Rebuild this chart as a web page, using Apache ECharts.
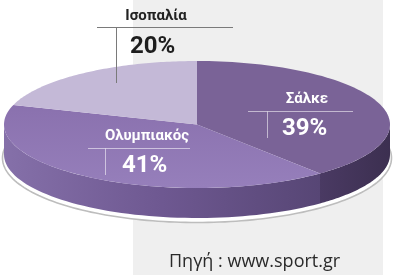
<!DOCTYPE html>
<html>
<head>
<meta charset="utf-8">
<script src="https://cdn.jsdelivr.net/npm/echarts@6/dist/echarts.min.js"></script>
<style>html,body{margin:0;padding:0;background:#fff;}#c{width:400px;height:275px;}</style>
</head>
<body>
<div id="c"></div>
<script>
// Data (clockwise from top)
const categories = ['Σάλκε', 'Ολυμπιακός', 'Ισοπαλία'];
const values = [39, 41, 20];
const sourceText = 'Πηγή : www.sport.gr';

const total = values.reduce((a, b) => a + b, 0);
let acc = 0;
const pieData = values.map((v, i) => {
  const s = acc / total; acc += v; return [s, acc / total, i];
});
const pctText = values.map(v => v + '%');

// layout
const CX = 197, CY = 124.5, RX = 193, RY = 63.5, H = 30;
const topColors = [
  '#7a6397',
  {type:'linear',x:0,y:0,x2:0,y2:1,colorStops:[{offset:0,color:'#8a71ae'},{offset:1,color:'#967fbb'}]},
  '#c4b9d7'
];
const sideColors = [
  {type:'linear',x:0,y:0,x2:1,y2:0,colorStops:[{offset:0,color:'#4a3a63'},{offset:1,color:'#3c2f50'}]},
  {type:'linear',x:0,y:0,x2:1,y2:0,colorStops:[{offset:0,color:'#8570a9'},{offset:0.5,color:'#6e5891'},{offset:1,color:'#574675'}]},
  '#a99cc0'
];
function pt(t, dy, rx, ry) {
  return [CX + (rx || RX) * Math.sin(t), CY - (ry || RY) * Math.cos(t) + (dy || 0)];
}
function arc(t0, t1, dy, n) {
  const pts = [];
  for (let k = 0; k <= n; k++) pts.push(pt(t0 + (t1 - t0) * k / n, dy));
  return pts;
}

function renderItem(params, api) {
  const s = api.value(0), e = api.value(1), idx = api.value(2);
  const t0 = s * 2 * Math.PI, t1 = e * 2 * Math.PI;
  const children = [];
  const topPts = [[CX, CY]].concat(arc(t0, t1, 0, 80));
  children.push({type:'polygon', z2: 10, shape:{points: topPts}, style:{fill: topColors[idx]}});
  const a = Math.max(t0, Math.PI / 2), b = Math.min(t1, 3 * Math.PI / 2);
  if (b > a) {
    const up = arc(a, b, 0, 60);
    const dn = arc(a, b, H, 60).reverse();
    children.push({type:'polygon', z2: 5, shape:{points: up.concat(dn)}, style:{fill: sideColors[idx]}});
  }
  if (idx === 0) {
    const rim = [];
    for (let k = 0; k <= 120; k++) {
      const t = Math.PI * 0.45 + Math.PI * 1.1 * k / 120;
      rim.push(pt(t, H + 3.5, RX + 1.5, RY + 1));
    }
    children.push({type:'polyline', z2: 1, shape:{points: rim}, style:{stroke:'#bdbdbd', lineWidth:1.6, fill:'#ffffff'}});
  }
  return {type:'group', children};
}

const chart = echarts.init(document.getElementById('c'), null, {renderer:'canvas'});
const white = '#ffffff';
const wline = 'rgba(255,255,255,0.55)';
const dline = '#7a7a7a';
const lblFont = 'Roboto';
chart.setOption({
  animation: false,
  graphic: [
    {type:'rect', z:-10, shape:{x:133, y:0, width:250, height:275}, style:{fill:'#efefef'}},
    {type:'line', z:20, shape:{x1:97,y1:27.5,x2:233,y2:27.5}, style:{stroke:dline,lineWidth:1}},
    {type:'line', z:20, shape:{x1:116.5,y1:27.5,x2:116.5,y2:83}, style:{stroke:dline,lineWidth:1}},
    {type:'text', z:20, style:{text:categories[2], x:156, y:16, align:'center', verticalAlign:'middle', font:'bold 15px '+lblFont, fill:'#222'}},
    {type:'text', z:20, style:{text:pctText[2], x:130, y:47, align:'left', verticalAlign:'middle', font:'bold 24px '+lblFont, fill:'#1e1e1e'}},
    {type:'line', z:20, shape:{x1:248,y1:111.5,x2:353,y2:111.5}, style:{stroke:wline,lineWidth:1}},
    {type:'line', z:20, shape:{x1:267.5,y1:111.5,x2:267.5,y2:138}, style:{stroke:wline,lineWidth:1}},
    {type:'text', z:20, style:{text:categories[0], x:307, y:99, align:'center', verticalAlign:'middle', font:'bold 15px '+lblFont, fill:white}},
    {type:'text', z:20, style:{text:pctText[0], x:282, y:129, align:'left', verticalAlign:'middle', font:'bold 24px '+lblFont, fill:white}},
    {type:'line', z:20, shape:{x1:88,y1:148.5,x2:190,y2:148.5}, style:{stroke:wline,lineWidth:1}},
    {type:'line', z:20, shape:{x1:105.5,y1:148.5,x2:105.5,y2:175}, style:{stroke:wline,lineWidth:1}},
    {type:'text', z:20, style:{text:categories[1], x:147, y:136, align:'center', verticalAlign:'middle', font:'bold 15px '+lblFont, fill:white}},
    {type:'text', z:20, style:{text:pctText[1], x:122, y:166, align:'left', verticalAlign:'middle', font:'bold 24px '+lblFont, fill:white}},
    {type:'text', z:20, style:{text:sourceText, x:169, y:262, align:'left', verticalAlign:'middle', font:'18px "Open Sans"', fill:'#2a2a2a'}}
  ],
  series: [{
    type:'custom',
    coordinateSystem:'none',
    renderItem: renderItem,
    data: pieData,
    silent: true
  }]
});
</script>
</body>
</html>
